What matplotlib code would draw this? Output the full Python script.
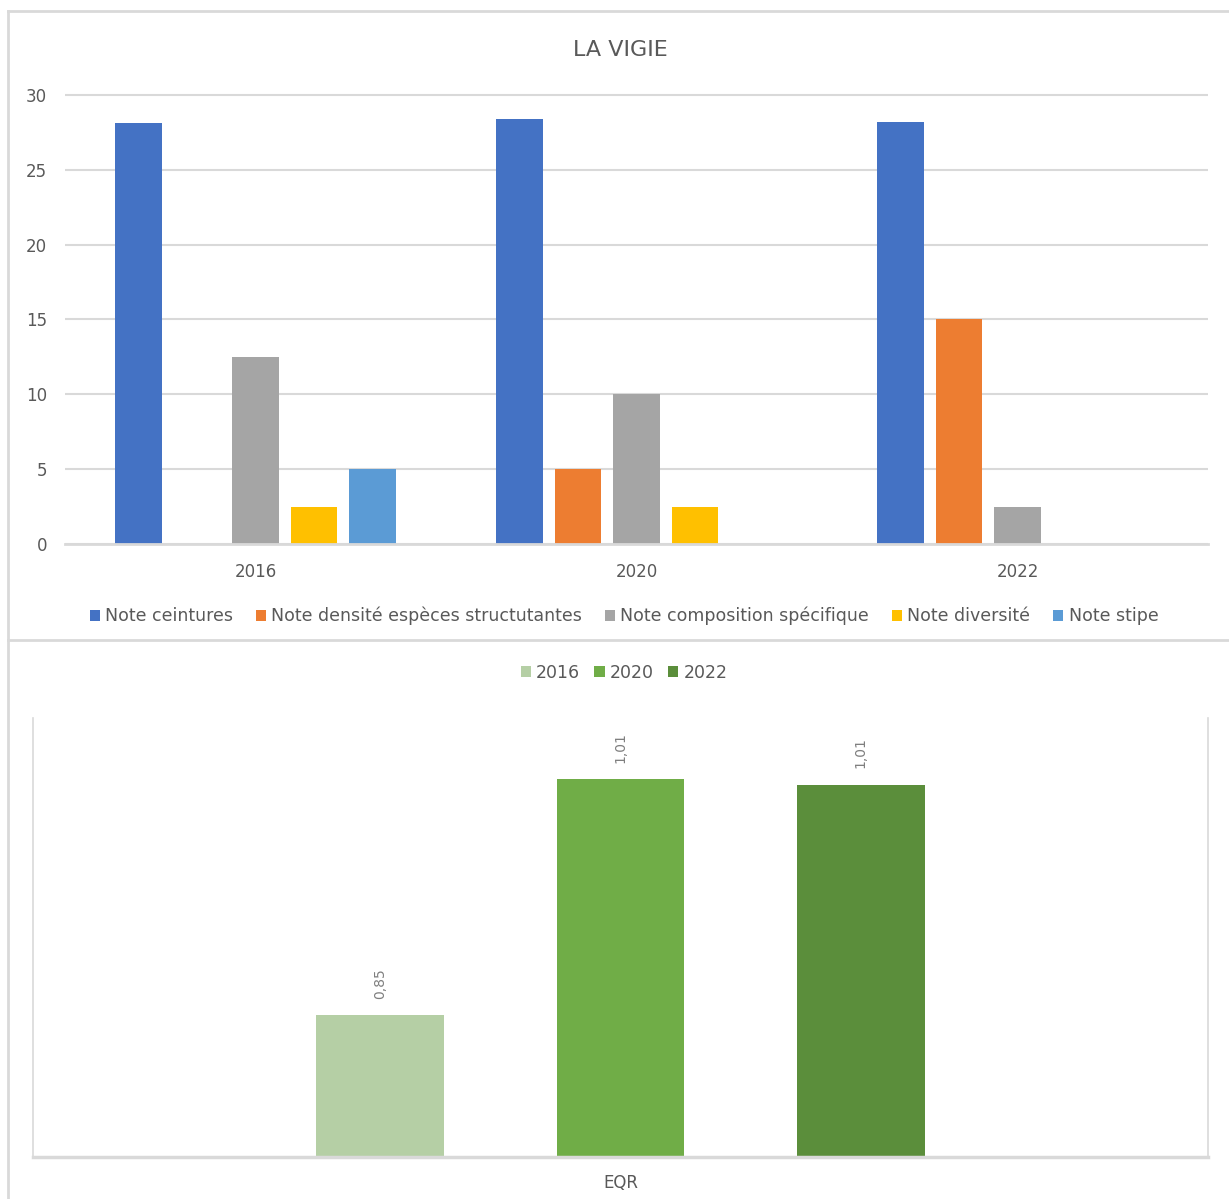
import numpy as np
import matplotlib.pyplot as plt
from matplotlib.lines import Line2D

plt.rcParams['font.family'] = ['DejaVu Sans']

# donnees
annees = ['2016', '2020', '2022']
series = ['Note ceintures', 'Note densité espèces structutantes',
          'Note composition spécifique', 'Note diversité', 'Note stipe']
ceintures = [28.1, 28.4, 28.2]
densite = [0, 5, 15]
composition = [12.5, 10, 2.5]
diversite = [2.5, 2.5, 0]
stipe = [5, 0, 0]
eqr_annees = ['2016', '2020', '2022']
eqr = [0.85, 1.012, 1.008]

couleurs = ['#4472C4', '#ED7D31', '#A5A5A5', '#FFC000', '#5B9BD5']
verts = ['#B5CFA5', '#70AD47', '#5B8E3B']
gris = '#595959'
grille = '#D9D9D9'

W, H = 1229, 1199
fig = plt.figure(figsize=(W / 100, H / 100), dpi=100)

def fx(px):
    return px / W

def fy(py):
    return 1 - py / H

# cadre
fig.add_artist(Line2D([fx(8), 1], [fy(11), fy(11)], color=grille, lw=2))
fig.add_artist(Line2D([fx(8), fx(8)], [fy(11), 0], color=grille, lw=2))
fig.add_artist(Line2D([fx(8), 1], [fy(640), fy(640)], color=grille, lw=2))

# graphique du haut
ax1 = fig.add_axes([fx(65), fy(544), fx(1208) - fx(65), fy(92) - fy(544)])
x = np.arange(len(annees))
valeurs = [ceintures, densite, composition, diversite, stipe]
pas = 0.1535
larg = 0.121
handles = []
for i, v in enumerate(valeurs):
    b = ax1.bar(x + (i - 2) * pas, v, larg, color=couleurs[i], label=series[i], zorder=3)
    handles.append(b)
ax1.set_xlim(-0.5, 2.5)
ax1.set_ylim(0, 30.2)
ax1.set_yticks([0, 5, 10, 15, 20, 25, 30])
ax1.set_xticks(x)
ax1.set_xticklabels(annees)
ax1.grid(axis='y', color=grille, lw=1.5, zorder=0)
for s in ['top', 'right', 'left']:
    ax1.spines[s].set_visible(False)
ax1.spines['bottom'].set_color(grille)
ax1.spines['bottom'].set_linewidth(2)
ax1.spines['bottom'].set_zorder(4)
ax1.tick_params(axis='both', length=0, colors=gris, labelsize=12)
ax1.tick_params(axis='y', pad=13)
ax1.tick_params(axis='x', pad=14)
fig.text(fx(620), fy(50), 'LA VIGIE', ha='center', va='center', fontsize=16, color=gris)
fig.legend(handles=handles, labels=series, loc='center', bbox_to_anchor=(fx(624), fy(616)),
           ncol=5, frameon=False, fontsize=12.5, handlelength=0.6, handleheight=0.6,
           handletextpad=0.3, columnspacing=1.3, labelcolor=gris)

# graphique du bas
ax2 = fig.add_axes([fx(33), fy(1157), fx(1208) - fx(33), fy(718) - fy(1157)])
pos = np.array([-0.2046, 0, 0.2046])
handles2 = []
for i in range(3):
    b = ax2.bar(pos[i], eqr[i], 0.1087, color=verts[i], label=eqr_annees[i], zorder=3)
    ax2.bar_label(b, labels=[('%.2f' % eqr[i]).replace('.', ',')], rotation=90,
                  padding=12, fontsize=10, color='#7F7F7F')
    handles2.append(b)
ax2.set_xlim(-0.5, 0.5)
ax2.set_ylim(0.7527, 1.054)
ax2.set_yticks([])
ax2.set_xticks([0])
ax2.set_xticklabels(['EQR'])
ax2.spines['top'].set_visible(False)
ax2.spines['left'].set_color(grille)
ax2.spines['right'].set_color(grille)
ax2.spines['left'].set_linewidth(1.2)
ax2.spines['right'].set_linewidth(1.2)
ax2.spines['bottom'].set_color(grille)
ax2.spines['bottom'].set_linewidth(2.5)
ax2.spines['bottom'].set_zorder(4)
ax2.tick_params(axis='x', length=0, colors=gris, labelsize=12, pad=12)
fig.legend(handles=handles2, labels=eqr_annees, loc='center', bbox_to_anchor=(fx(624), fy(673)),
           ncol=3, frameon=False, fontsize=12.5, handlelength=0.6, handleheight=0.6,
           handletextpad=0.3, columnspacing=0.8, labelcolor=gris)

plt.savefig('out.png', dpi=100)
